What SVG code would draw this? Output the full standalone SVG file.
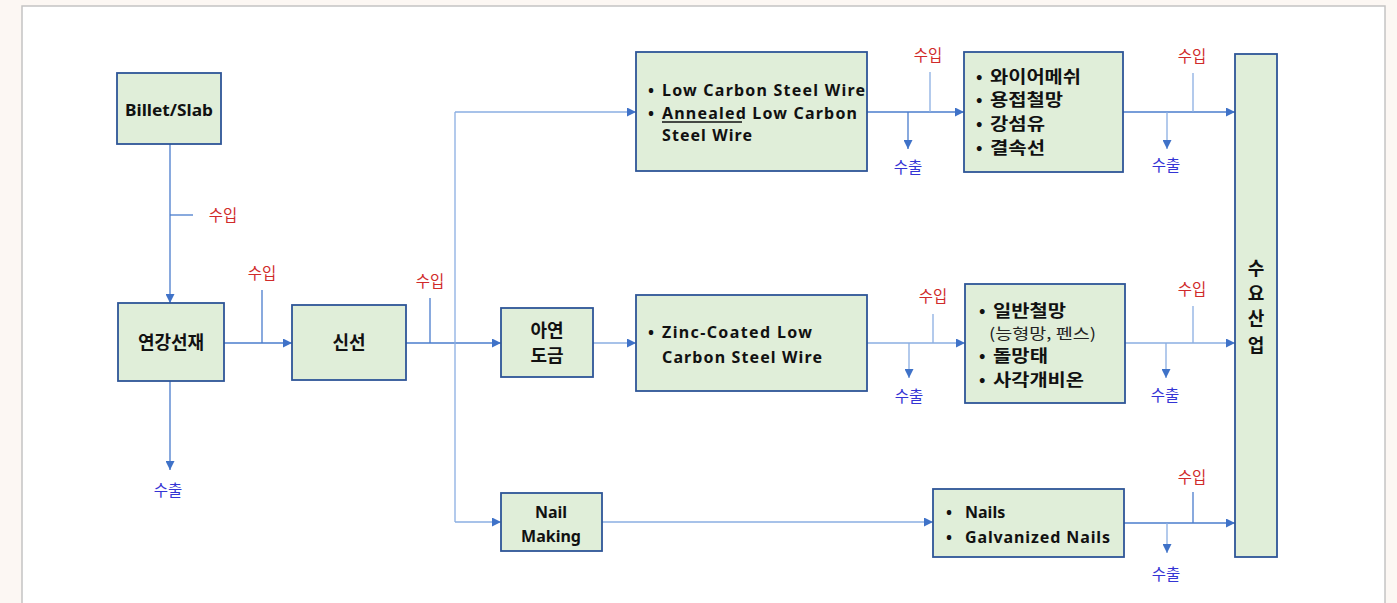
<svg xmlns="http://www.w3.org/2000/svg" width="1397" height="603" viewBox="0 0 1397 603">
<defs>
<marker id="ah" viewBox="0 0 10 10" refX="10" refY="5" markerWidth="9" markerHeight="9" markerUnits="userSpaceOnUse" orient="auto">
<path d="M0,0 L10,5 L0,10 z" fill="#3f72c8"/>
</marker>
<style>
.box{fill:#e0eed9;stroke:#2e5597;stroke-width:1.8}
.ln{fill:none;stroke:#4a7ccc;stroke-width:1.3}
.lt{fill:none;stroke:#8aaee2;stroke-width:1.3}
.t{font-family:"Noto Sans","Noto Sans CJK KR",sans-serif;font-weight:700;font-size:16px;fill:#111}
.k{font-family:"Noto Sans CJK KR",sans-serif;font-weight:700;font-size:18px;fill:#111}
.kl{font-family:"Noto Sans CJK KR",sans-serif;font-weight:700;font-size:17px;fill:#111}
.kn{font-family:"Noto Sans CJK KR",sans-serif;font-weight:400;font-size:15px;fill:#222}
.imp{font-family:"Noto Sans CJK KR",sans-serif;font-size:15.5px;fill:#d02a2a;text-anchor:middle}
.exp{font-family:"Noto Sans CJK KR",sans-serif;font-size:15.5px;fill:#3434d4;text-anchor:middle}
.c{text-anchor:middle}
</style>
</defs>
<rect x="0" y="0" width="1397" height="603" fill="#fcf7f3"/>
<rect x="22" y="6" width="1363" height="610" fill="#ffffff" stroke="#c4c4c4" stroke-width="1.5"/>

<g id="connectors">
<path class="ln" d="M170,144 V303" marker-end="url(#ah)"/>
<path class="ln" d="M170,215 H193"/>
<path class="ln" d="M170,381 V470" marker-end="url(#ah)"/>
<path class="ln" d="M224,343 H292" marker-end="url(#ah)"/>
<path class="ln" d="M262,290 V343"/>
<path class="ln" d="M406,343 H501" marker-end="url(#ah)"/>
<path class="ln" d="M430,298 V343"/>
<path class="lt" d="M455,112 V522"/>
<path class="lt" d="M455,112 H636" marker-end="url(#ah)"/>
<path class="lt" d="M455,522 H501" marker-end="url(#ah)"/>
<path class="lt" d="M593,343 H636" marker-end="url(#ah)"/>
<path class="lt" d="M602,522 H933" marker-end="url(#ah)"/>
<path class="ln" d="M867,112 H964" marker-end="url(#ah)"/>
<path class="ln" d="M908,112 V149" marker-end="url(#ah)"/>
<path class="lt" d="M930,72 V112"/>
<path class="ln" d="M1123,112 H1235" marker-end="url(#ah)"/>
<path class="lt" d="M1167,112 V149" marker-end="url(#ah)"/>
<path class="lt" d="M1193,73 V112"/>
<path class="lt" d="M867,343 H965" marker-end="url(#ah)"/>
<path class="lt" d="M909,343 V378" marker-end="url(#ah)"/>
<path class="lt" d="M933,314 V343"/>
<path class="lt" d="M1125,343 H1235" marker-end="url(#ah)"/>
<path class="lt" d="M1166,343 V378" marker-end="url(#ah)"/>
<path class="lt" d="M1193,306 V343"/>
<path class="ln" d="M1124,523 H1235" marker-end="url(#ah)"/>
<path class="lt" d="M1167,523 V553" marker-end="url(#ah)"/>
<path class="ln" d="M1193,492 V523"/>
</g>

<g id="labels">
<text class="imp" x="223" y="221">수입</text>
<text class="imp" x="262" y="279">수입</text>
<text class="imp" x="430" y="287">수입</text>
<text class="imp" x="928" y="61">수입</text>
<text class="imp" x="1192" y="62">수입</text>
<text class="imp" x="933" y="302">수입</text>
<text class="imp" x="1192" y="295">수입</text>
<text class="imp" x="1192" y="483">수입</text>
<text class="exp" x="168" y="496">수출</text>
<text class="exp" x="908" y="173">수출</text>
<text class="exp" x="1166" y="171">수출</text>
<text class="exp" x="909" y="402">수출</text>
<text class="exp" x="1165" y="401">수출</text>
<text class="exp" x="1166" y="580">수출</text>
</g>

<g id="billet">
<rect class="box" x="117" y="73" width="104" height="71"/>
<text class="t c" x="169" y="116" textLength="88" lengthAdjust="spacingAndGlyphs">Billet/Slab</text>
</g>
<g id="yeongang">
<rect class="box" x="118" y="303" width="106" height="78"/>
<text class="k c" x="171" y="349">연강선재</text>
</g>
<g id="sinseon">
<rect class="box" x="292" y="305" width="114" height="75"/>
<text class="k c" x="349" y="349">신선</text>
</g>
<g id="ayeon">
<rect class="box" x="501" y="308" width="92" height="69"/>
<text class="k c" x="547" y="337">아연</text>
<text class="k c" x="547" y="362">도금</text>
</g>
<g id="nailmaking">
<rect class="box" x="501" y="493" width="101" height="58"/>
<text class="t c" x="551" y="518" font-size="17">Nail</text>
<text class="t c" x="551" y="542" font-size="17">Making</text>
</g>
<g id="lowcarbon">
<rect class="box" x="636" y="52" width="231" height="119"/>
<text class="t" x="648" y="96">•</text>
<text class="t" x="662" y="96" textLength="203" lengthAdjust="spacing">Low Carbon Steel Wire</text>
<text class="t" x="648" y="119">•</text>
<text class="t" x="662" y="119" textLength="195" lengthAdjust="spacing">Annealed Low Carbon</text>
<path d="M662,122 H742" stroke="#111" stroke-width="1.5"/>
<text class="t" x="662" y="141" textLength="90" lengthAdjust="spacing">Steel Wire</text>
</g>
<g id="wiremesh">
<rect class="box" x="964" y="52" width="159" height="120"/>
<text class="kl" x="976" y="83">•</text>
<text class="kl" x="990" y="83" textLength="91" lengthAdjust="spacingAndGlyphs">와이어메쉬</text>
<text class="kl" x="976" y="106">•</text>
<text class="kl" x="990" y="106" textLength="73" lengthAdjust="spacingAndGlyphs">용접철망</text>
<text class="kl" x="976" y="130">•</text>
<text class="kl" x="990" y="130" textLength="55" lengthAdjust="spacingAndGlyphs">강섬유</text>
<text class="kl" x="976" y="154">•</text>
<text class="kl" x="990" y="154" textLength="55" lengthAdjust="spacingAndGlyphs">결속선</text>
</g>
<g id="zinc">
<rect class="box" x="636" y="295" width="231" height="96"/>
<text class="t" x="648" y="338">•</text>
<text class="t" x="662" y="338" textLength="150" lengthAdjust="spacing">Zinc-Coated Low</text>
<text class="t" x="662" y="363" textLength="160" lengthAdjust="spacing">Carbon Steel Wire</text>
</g>
<g id="fence">
<rect class="box" x="965" y="284" width="160" height="119"/>
<text class="kl" x="979" y="317">•</text>
<text class="kl" x="993" y="317" textLength="73" lengthAdjust="spacingAndGlyphs">일반철망</text>
<text class="kn" x="989" y="339" textLength="107" lengthAdjust="spacingAndGlyphs">(능형망, 펜스)</text>
<text class="kl" x="979" y="362">•</text>
<text class="kl" x="993" y="362" textLength="55" lengthAdjust="spacingAndGlyphs">돌망태</text>
<text class="kl" x="979" y="386">•</text>
<text class="kl" x="993" y="386" textLength="91" lengthAdjust="spacingAndGlyphs">사각개비온</text>
</g>
<g id="nails">
<rect class="box" x="933" y="489" width="191" height="68"/>
<text class="t" x="946" y="518">•</text>
<text class="t" x="965" y="518">Nails</text>
<text class="t" x="946" y="543">•</text>
<text class="t" x="965" y="543" textLength="145" lengthAdjust="spacing">Galvanized Nails</text>
</g>
<g id="demand">
<rect class="box" x="1235" y="54" width="42" height="503"/>
<text class="k c" x="1256" y="275">수</text>
<text class="k c" x="1256" y="300">요</text>
<text class="k c" x="1256" y="325">산</text>
<text class="k c" x="1256" y="352">업</text>
</g>
</svg>
